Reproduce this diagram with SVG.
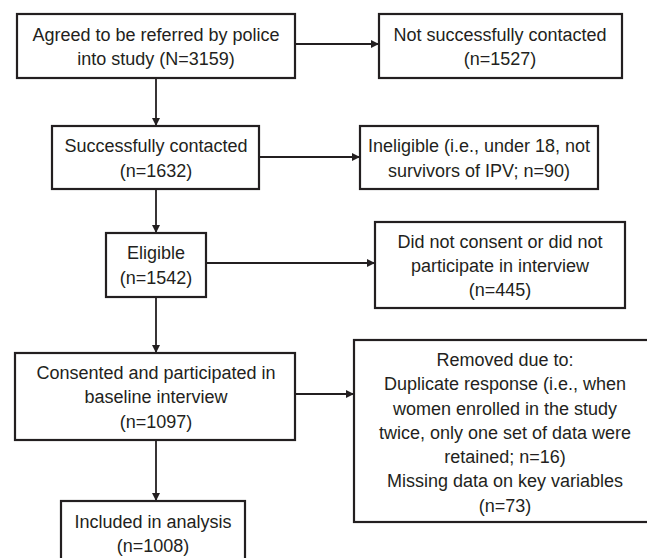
<svg xmlns="http://www.w3.org/2000/svg" width="647" height="558" viewBox="0 0 647 558">
<style>
.box{fill:#fff;stroke:#231f20;stroke-width:2.2}
.t{font-family:"Liberation Sans",Arial,sans-serif;font-size:18px;fill:#231f20;text-anchor:middle;dominant-baseline:central}
.c{stroke:#231f20;stroke-width:1.8;fill:none;marker-end:url(#ah)}
</style>
<defs>
<marker id="ah" viewBox="0 0 10 10" refX="10" refY="5" markerWidth="10" markerHeight="8" markerUnits="userSpaceOnUse" orient="auto">
<path d="M0,0 L10,5 L0,10 z" fill="#231f20"/>
</marker>
</defs>
<rect width="647" height="558" fill="#fff"/>
<g id="connectors">
<path class="c" d="M295,44 H379"/>
<path class="c" d="M156,78 V126"/>
<path class="c" d="M259,157 H360"/>
<path class="c" d="M156,189 V233"/>
<path class="c" d="M206,263 H375"/>
<path class="c" d="M156,297 V353"/>
<path class="c" d="M295,394 H354"/>
<path class="c" d="M156,440 V501"/>
</g>
<g id="n1"><rect class="box" x="17" y="14" width="278" height="64"/>
<text class="t" x="156" y="35">Agreed to be referred by police</text>
<text class="t" x="156" y="59">into study (N=3159)</text></g>
<g id="n2"><rect class="box" x="379" y="14" width="243" height="64"/>
<text class="t" x="500" y="35">Not successfully contacted</text>
<text class="t" x="500" y="59">(n=1527)</text></g>
<g id="n3"><rect class="box" x="52" y="126" width="207" height="63"/>
<text class="t" x="156" y="146">Successfully contacted</text>
<text class="t" x="156" y="171">(n=1632)</text></g>
<g id="n4"><rect class="box" x="360" y="126" width="238" height="63"/>
<text class="t" x="479" y="146">Ineligible (i.e., under 18, not</text>
<text class="t" x="479" y="171">survivors of IPV; n=90)</text></g>
<g id="n5"><rect class="box" x="106" y="233" width="100" height="64"/>
<text class="t" x="156" y="253">Eligible</text>
<text class="t" x="156" y="278">(n=1542)</text></g>
<g id="n6"><rect class="box" x="375" y="222" width="250" height="86"/>
<text class="t" x="500" y="242">Did not consent or did not</text>
<text class="t" x="500" y="266">participate in interview</text>
<text class="t" x="500" y="290">(n=445)</text></g>
<g id="n7"><rect class="box" x="15" y="353" width="280" height="87"/>
<text class="t" x="156" y="373">Consented and participated in</text>
<text class="t" x="156" y="397">baseline interview</text>
<text class="t" x="156" y="422">(n=1097)</text></g>
<g id="n8"><rect class="box" x="354" y="340" width="304" height="182"/>
<text class="t" x="505" y="360">Removed due to:</text>
<text class="t" x="505" y="384">Duplicate response (i.e., when</text>
<text class="t" x="505" y="409">women enrolled in the study</text>
<text class="t" x="505" y="433">twice, only one set of data were</text>
<text class="t" x="505" y="457">retained; n=16)</text>
<text class="t" x="505" y="481">Missing data on key variables</text>
<text class="t" x="505" y="506">(n=73)</text></g>
<g id="n9"><rect class="box" x="61" y="501" width="184" height="70"/>
<text class="t" x="153" y="522">Included in analysis</text>
<text class="t" x="153" y="546">(n=1008)</text></g>
</svg>
